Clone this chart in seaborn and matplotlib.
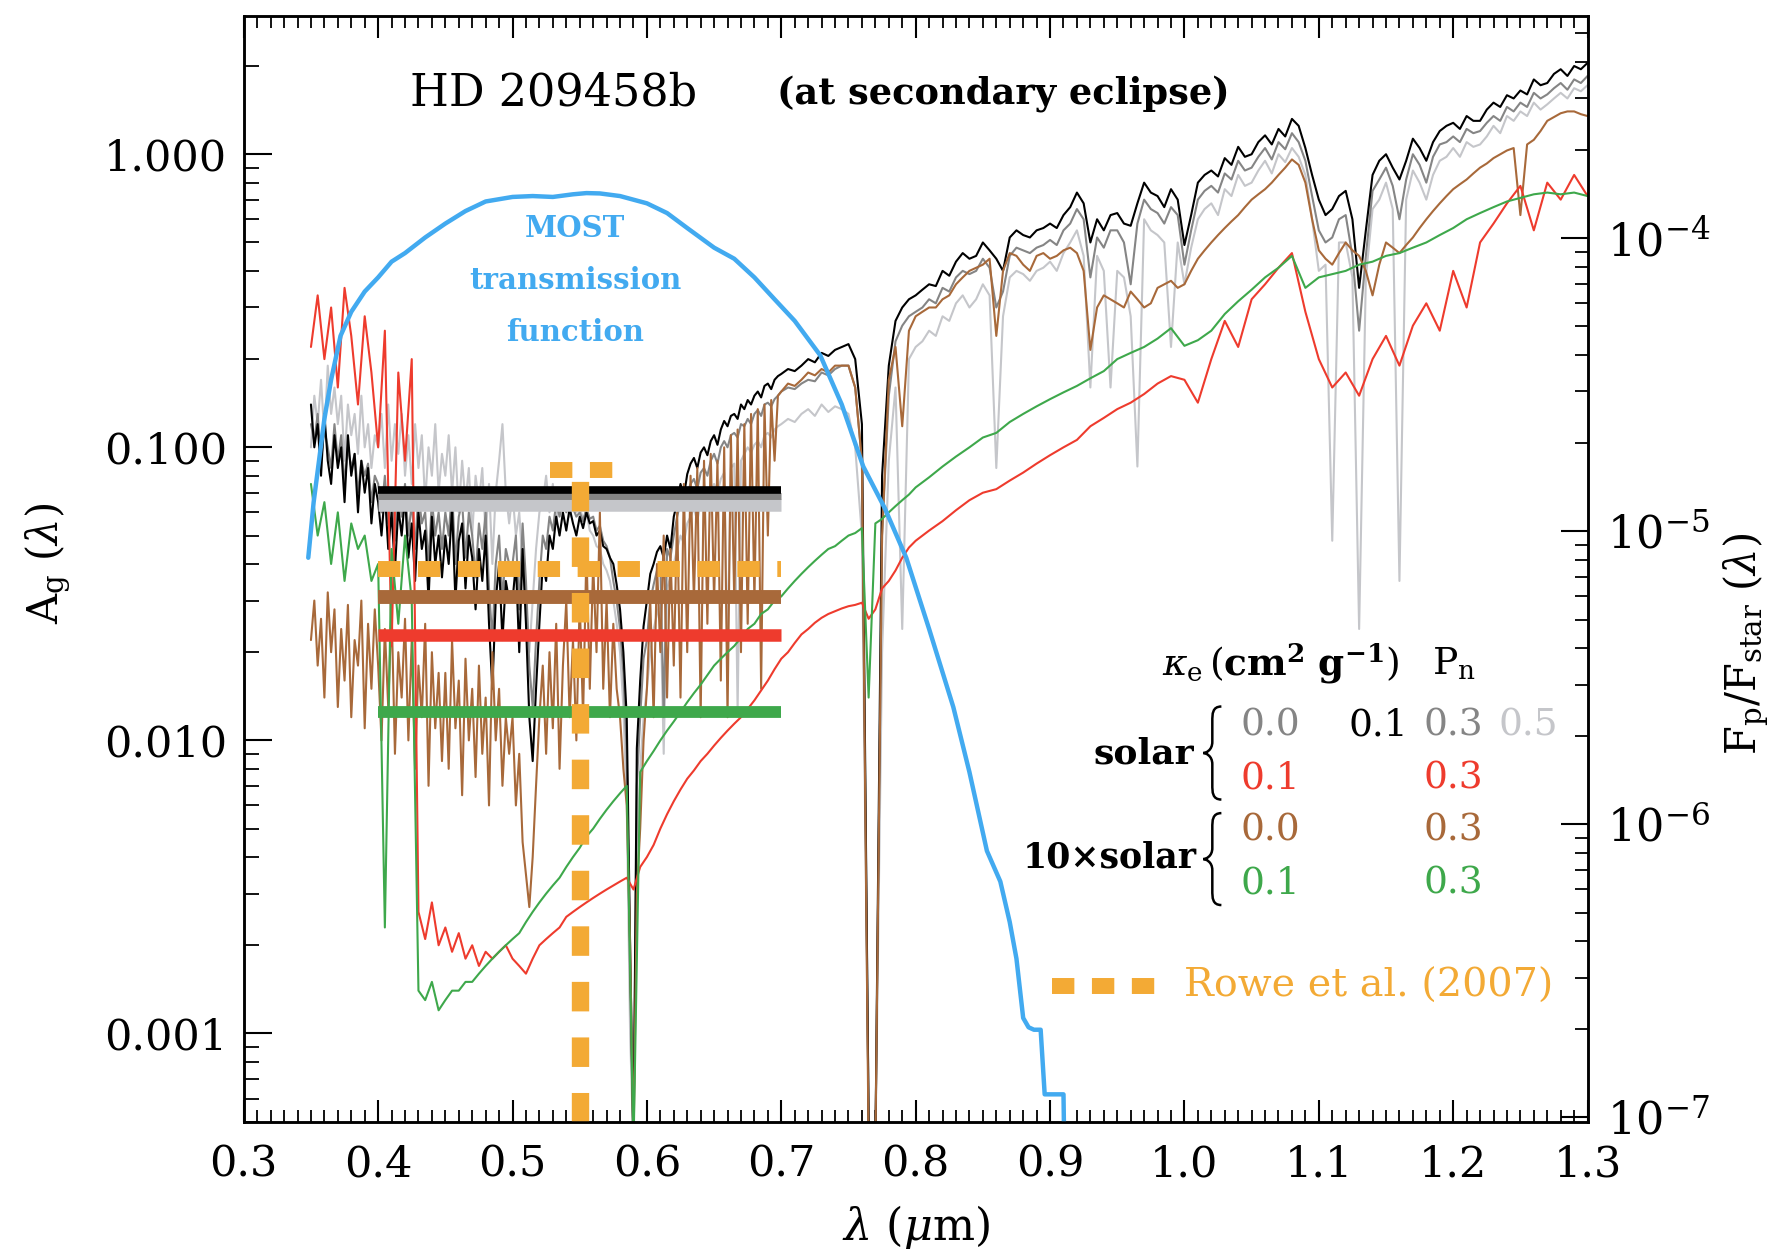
import numpy as np
import matplotlib
matplotlib.use("Agg")
import matplotlib.pyplot as plt
import seaborn as sns
from matplotlib.path import Path
from matplotlib.patches import PathPatch
from matplotlib.ticker import FixedLocator, LogLocator, MultipleLocator, FuncFormatter, NullFormatter

# ---------------- data ----------------
# wavelength grids (micron)
lam_hi = np.round(np.r_[np.arange(0.350, 0.6999, 0.0025),
                        np.arange(0.700, 0.7975, 0.005),
                        np.arange(0.800, 1.3001, 0.005)], 4)
lam_lo = np.round(np.r_[np.arange(0.350, 0.7975, 0.005), np.arange(0.80, 1.3005, 0.01)], 3)

# solar, kappa=0.0, Pn=0.1 (black)  -- on lam_hi
black_A = [0.14, 0.10, 0.12, 0.08, 0.13, 0.09, 0.075, 0.11, 0.085, 0.10,
           0.065, 0.11, 0.08, 0.095, 0.06, 0.09, 0.07, 0.085, 0.055, 0.075,
           0.065, 0.05, 0.07, 0.045, 0.06, 0.038, 0.062, 0.05, 0.068, 0.042,
           0.055, 0.035, 0.06, 0.045, 0.052, 0.03, 0.058, 0.04, 0.05, 0.036,
           0.05, 0.04, 0.062, 0.03, 0.048, 0.055, 0.033, 0.05, 0.042, 0.028,
           0.045, 0.035, 0.05, 0.025, 0.015, 0.03, 0.04, 0.022, 0.035, 0.03,
           0.03, 0.04, 0.02, 0.045, 0.025, 0.012, 0.0085, 0.015, 0.025, 0.04,
           0.035, 0.05, 0.045, 0.058, 0.05, 0.06, 0.052, 0.062, 0.055, 0.05,
           0.058, 0.053, 0.06, 0.055, 0.056, 0.05, 0.052, 0.046, 0.045, 0.042,
           0.04, 0.034, 0.028, 0.02, 0.012, 0.002, 0.0004, 0.0094, 0.016, 0.0245,
           0.03, 0.037, 0.04, 0.044, 0.046, 0.042, 0.05, 0.045, 0.058, 0.065,
           0.075, 0.068, 0.081, 0.088, 0.092, 0.085, 0.096, 0.10, 0.094, 0.105,
           0.11, 0.102, 0.115, 0.123, 0.118, 0.128, 0.13, 0.125, 0.14, 0.135,
           0.145, 0.14, 0.15, 0.155, 0.148, 0.162, 0.165, 0.158, 0.17, 0.175,
           0.178, 0.185, 0.182, 0.19, 0.20, 0.195, 0.21, 0.205, 0.215, 0.22,
           0.225, 0.20, 0.12, 0.0005, 0.0004, 0.08, 0.19, 0.27, 0.30, 0.32,
           0.33, 0.345, 0.36, 0.355, 0.40, 0.385, 0.43, 0.46, 0.44, 0.45,
           0.50, 0.47, 0.44, 0.40, 0.52, 0.55, 0.53, 0.52, 0.55, 0.56,
           0.58, 0.56, 0.62, 0.66, 0.74, 0.68, 0.50, 0.60, 0.55, 0.62,
           0.63, 0.58, 0.57, 0.68, 0.80, 0.74, 0.72, 0.66, 0.76, 0.70,
           0.49, 0.62, 0.80, 0.85, 0.88, 0.84, 0.97, 0.92, 1.06, 0.98,
           1.00, 1.10, 1.16, 1.08, 1.22, 1.15, 1.32, 1.25, 1.05, 0.85,
           0.70, 0.62, 0.65, 0.72, 0.75, 0.60, 0.35, 0.55, 0.85, 0.95,
           1.00, 0.90, 0.82, 0.95, 1.13, 1.05, 0.95, 1.10, 1.20, 1.25,
           1.28, 1.22, 1.35, 1.30, 1.30, 1.42, 1.50, 1.45, 1.59, 1.55,
           1.65, 1.60, 1.80, 1.72, 1.75, 1.88, 1.95, 1.85, 2.00, 1.95,
           2.05]

# solar, kappa=0.0, Pn=0.3 (gray)  -- on lam_hi
gray_A = [0.12, 0.105, 0.13, 0.09, 0.115, 0.10, 0.085, 0.12, 0.09, 0.11,
          0.075, 0.10, 0.085, 0.095, 0.07, 0.09, 0.08, 0.088, 0.065, 0.08,
          0.075, 0.06, 0.08, 0.055, 0.07, 0.048, 0.072, 0.058, 0.075, 0.05,
          0.065, 0.045, 0.07, 0.055, 0.06, 0.04, 0.066, 0.05, 0.06, 0.045,
          0.06, 0.05, 0.072, 0.04, 0.058, 0.065, 0.042, 0.06, 0.05, 0.036,
          0.055, 0.045, 0.06, 0.033, 0.022, 0.04, 0.05, 0.03, 0.045, 0.04,
          0.04, 0.05, 0.028, 0.055, 0.035, 0.018, 0.013, 0.022, 0.035, 0.05,
          0.045, 0.058, 0.052, 0.065, 0.058, 0.066, 0.06, 0.068, 0.062, 0.058,
          0.06, 0.056, 0.062, 0.057, 0.058, 0.052, 0.054, 0.048, 0.046, 0.042,
          0.035, 0.03, 0.024, 0.017, 0.009, 0.0015, 0.0004, 0.007, 0.012, 0.019,
          0.022, 0.03, 0.034, 0.038, 0.04, 0.012, 0.045, 0.042, 0.05, 0.058,
          0.065, 0.06, 0.07, 0.075, 0.078, 0.072, 0.082, 0.085, 0.08, 0.09,
          0.095, 0.088, 0.10, 0.105, 0.10, 0.11, 0.112, 0.108, 0.12, 0.118,
          0.125, 0.12, 0.13, 0.134, 0.128, 0.14, 0.142, 0.138, 0.146, 0.15,
          0.155, 0.16, 0.158, 0.165, 0.17, 0.168, 0.18, 0.176, 0.185, 0.19,
          0.19, 0.16, 0.09, 0.0005, 0.0004, 0.05, 0.15, 0.23, 0.26, 0.28,
          0.29, 0.30, 0.32, 0.31, 0.35, 0.34, 0.38, 0.40, 0.39, 0.40,
          0.44, 0.41, 0.30, 0.34, 0.45, 0.48, 0.47, 0.46, 0.48, 0.49,
          0.51, 0.49, 0.55, 0.58, 0.65, 0.60, 0.38, 0.52, 0.48, 0.55,
          0.55, 0.50, 0.36, 0.58, 0.70, 0.65, 0.63, 0.58, 0.66, 0.62,
          0.42, 0.55, 0.70, 0.75, 0.78, 0.74, 0.86, 0.82, 0.95, 0.88,
          0.90, 0.98, 1.05, 0.96, 1.10, 1.04, 1.18, 1.10, 0.95, 0.72,
          0.55, 0.50, 0.52, 0.60, 0.62, 0.45, 0.25, 0.45, 0.75, 0.82,
          0.90, 0.78, 0.60, 0.82, 1.00, 0.92, 0.80, 0.98, 1.08, 1.10,
          1.15, 1.10, 1.22, 1.18, 1.20, 1.28, 1.35, 1.30, 1.45, 1.40,
          1.50, 1.45, 1.62, 1.55, 1.60, 1.68, 1.75, 1.66, 1.80, 1.75,
          1.85]

# solar, kappa=0.0, Pn=0.5 (light gray)  -- on lam_hi
lgray_A = [0.10, 0.15, 0.12, 0.17, 0.11, 0.19, 0.13, 0.16, 0.12, 0.15,
           0.09, 0.14, 0.11, 0.13, 0.095, 0.15, 0.10, 0.12, 0.085, 0.11,
           0.10, 0.13, 0.085, 0.14, 0.09, 0.12, 0.095, 0.13, 0.08, 0.11,
           0.075, 0.12, 0.085, 0.11, 0.065, 0.10, 0.08, 0.12, 0.07, 0.095,
           0.08, 0.11, 0.07, 0.10, 0.06, 0.09, 0.065, 0.085, 0.05, 0.08,
           0.065, 0.085, 0.05, 0.075, 0.04, 0.07, 0.09, 0.12, 0.07, 0.055,
           0.07, 0.05, 0.06, 0.04, 0.03, 0.02, 0.03, 0.045, 0.06, 0.065,
           0.08, 0.06, 0.075, 0.055, 0.07, 0.062, 0.068, 0.058, 0.066, 0.06,
           0.062, 0.057, 0.06, 0.052, 0.05, 0.046, 0.045, 0.04, 0.038, 0.035,
           0.03, 0.025, 0.02, 0.013, 0.006, 0.001, 0.0004, 0.004, 0.008, 0.012,
           0.015, 0.02, 0.024, 0.027, 0.03, 0.009, 0.033, 0.036, 0.04, 0.045,
           0.05, 0.047, 0.055, 0.058, 0.062, 0.056, 0.065, 0.068, 0.064, 0.07,
           0.075, 0.07, 0.078, 0.082, 0.02, 0.085, 0.088, 0.0126, 0.09, 0.095,
           0.10, 0.096, 0.102, 0.105, 0.10, 0.11, 0.112, 0.108, 0.115, 0.118,
           0.12, 0.125, 0.122, 0.13, 0.135, 0.128, 0.14, 0.132, 0.138, 0.135,
           0.13, 0.10, 0.05, 0.0005, 0.0004, 0.02, 0.09, 0.16, 0.024, 0.20,
           0.22, 0.23, 0.25, 0.24, 0.28, 0.27, 0.31, 0.33, 0.30, 0.32,
           0.36, 0.33, 0.085, 0.28, 0.38, 0.40, 0.39, 0.37, 0.40, 0.41,
           0.43, 0.40, 0.46, 0.50, 0.55, 0.45, 0.16, 0.45, 0.40, 0.16,
           0.40, 0.38, 0.28, 0.086, 0.60, 0.55, 0.53, 0.50, 0.22, 0.50,
           0.36, 0.48, 0.60, 0.65, 0.68, 0.62, 0.76, 0.72, 0.85, 0.78,
           0.80, 0.88, 0.95, 0.86, 1.00, 0.94, 1.05, 0.98, 0.85, 0.60,
           0.40, 0.42, 0.048, 0.50, 0.50, 0.38, 0.024, 0.38, 0.65, 0.70,
           0.80, 0.65, 0.035, 0.70, 0.88, 0.80, 0.70, 0.85, 0.95, 0.98,
           1.05, 0.98, 1.10, 1.06, 1.08, 1.15, 1.25, 1.18, 1.35, 1.30,
           1.40, 1.35, 1.50, 1.42, 1.48, 1.55, 1.62, 1.55, 1.68, 1.64,
           1.72]

# 10x solar, kappa=0.0, Pn=0.3 (brown)  -- on lam_hi
brown_A = [0.022, 0.03, 0.018, 0.026, 0.014, 0.032, 0.02, 0.028, 0.013, 0.024,
           0.016, 0.029, 0.012, 0.022, 0.018, 0.03, 0.011, 0.025, 0.015, 0.028,
           0.018, 0.01, 0.024, 0.013, 0.028, 0.009, 0.02, 0.014, 0.026, 0.01,
           0.022, 0.008, 0.018, 0.012, 0.025, 0.007, 0.02, 0.011, 0.017, 0.0085,
           0.017, 0.008, 0.022, 0.011, 0.016, 0.0065, 0.019, 0.01, 0.015, 0.0075,
           0.018, 0.009, 0.014, 0.006, 0.02, 0.01, 0.015, 0.007, 0.012, 0.009,
           0.012, 0.006, 0.009, 0.0045, 0.0035, 0.0027, 0.004, 0.007, 0.012, 0.018,
           0.009, 0.02, 0.011, 0.025, 0.008, 0.018, 0.03, 0.012, 0.022, 0.01,
           0.03, 0.012, 0.045, 0.015, 0.04, 0.02, 0.06, 0.015, 0.03, 0.012,
           0.025, 0.015, 0.012, 0.008, 0.006, 0.002, 0.0004, 0.003, 0.005, 0.01,
           0.015, 0.03, 0.012, 0.04, 0.02, 0.05, 0.014, 0.045, 0.018, 0.06,
           0.014, 0.075, 0.02, 0.08, 0.03, 0.085, 0.012, 0.09, 0.025, 0.095,
           0.03, 0.09, 0.016, 0.10, 0.012, 0.11, 0.03, 0.115, 0.02, 0.12,
           0.025, 0.13, 0.03, 0.135, 0.015, 0.14, 0.05, 0.145, 0.09, 0.15,
           0.155, 0.165, 0.162, 0.17, 0.18, 0.176, 0.185, 0.18, 0.19, 0.19,
           0.19, 0.16, 0.09, 0.0004, 0.0004, 0.05, 0.17, 0.22, 0.118, 0.25,
           0.28, 0.29, 0.30, 0.30, 0.32, 0.33, 0.36, 0.38, 0.40, 0.41,
           0.42, 0.44, 0.24, 0.40, 0.46, 0.45, 0.42, 0.40, 0.45, 0.46,
           0.44, 0.45, 0.47, 0.48, 0.46, 0.40, 0.215, 0.30, 0.33, 0.32,
           0.31, 0.30, 0.34, 0.32, 0.30, 0.31, 0.35, 0.36, 0.37, 0.35,
           0.36, 0.40, 0.44, 0.47, 0.50, 0.53, 0.56, 0.59, 0.62, 0.66,
           0.70, 0.73, 0.76, 0.80, 0.85, 0.90, 0.96, 0.92, 0.80, 0.60,
           0.47, 0.44, 0.42, 0.46, 0.50, 0.47, 0.45, 0.40, 0.33, 0.42,
           0.50, 0.48, 0.46, 0.49, 0.52, 0.56, 0.60, 0.64, 0.68, 0.72,
           0.76, 0.79, 0.82, 0.86, 0.90, 0.93, 0.97, 1.00, 1.03, 1.05,
           0.62, 1.08, 1.12, 1.20, 1.30, 1.34, 1.38, 1.40, 1.40, 1.37,
           1.35]

# solar, kappa=0.1, Pn=0.3 (red)  -- on lam_lo
red_A = [0.22, 0.33, 0.20, 0.30, 0.16, 0.35, 0.24, 0.14, 0.28, 0.18,
         0.10, 0.25, 0.021, 0.18, 0.09, 0.20, 0.0026, 0.0021, 0.0028, 0.002,
         0.0023, 0.0019, 0.0022, 0.0018, 0.002, 0.0017, 0.0019, 0.0018, 0.0019, 0.002,
         0.0018, 0.0017, 0.0016, 0.0018, 0.002, 0.0021, 0.0022, 0.0023, 0.0025, 0.0026,
         0.0027, 0.0028, 0.0029, 0.003, 0.0031, 0.0032, 0.0033, 0.0034, 0.0031, 0.0037,
         0.004, 0.0044, 0.005, 0.0056, 0.0062, 0.0068, 0.0074, 0.0079, 0.0085, 0.009,
         0.0096, 0.0102, 0.0108, 0.0114, 0.012, 0.0128, 0.0137, 0.0148, 0.016, 0.0175,
         0.019, 0.02, 0.0215, 0.023, 0.024, 0.0252, 0.0262, 0.027, 0.0276, 0.0282,
         0.0287, 0.029, 0.0295, 0.026, 0.028, 0.033, 0.035, 0.038, 0.042, 0.0455,
         0.048, 0.052, 0.056, 0.061, 0.066, 0.070, 0.072, 0.077, 0.082, 0.088,
         0.094, 0.10, 0.106, 0.118, 0.126, 0.135, 0.142, 0.152, 0.165, 0.175,
         0.17, 0.142, 0.20, 0.27, 0.22, 0.32, 0.36, 0.41, 0.46, 0.29,
         0.20, 0.16, 0.18, 0.15, 0.20, 0.24, 0.19, 0.26, 0.31, 0.25,
         0.40, 0.30, 0.50, 0.58, 0.68, 0.78, 0.55, 0.80, 0.70, 0.85, 0.72]

# 10x solar, kappa=0.1, Pn=0.3 (green)  -- on lam_lo
green_A = [0.075, 0.05, 0.065, 0.04, 0.06, 0.035, 0.055, 0.045, 0.05, 0.035,
           0.04, 0.0023, 0.045, 0.025, 0.05, 0.03, 0.0014, 0.0013, 0.0015, 0.0012,
           0.0013, 0.0014, 0.0014, 0.0015, 0.0015, 0.0016, 0.0017, 0.0018, 0.0019, 0.002,
           0.0021, 0.0022, 0.0024, 0.0026, 0.0028, 0.003, 0.0032, 0.0034, 0.0037, 0.004,
           0.0043, 0.0047, 0.005, 0.0054, 0.0058, 0.0062, 0.0066, 0.007, 0.0004, 0.0078,
           0.0085, 0.0092, 0.01, 0.0108, 0.0116, 0.0125, 0.0135, 0.0145, 0.0155, 0.0167,
           0.018, 0.019, 0.02, 0.021, 0.0224, 0.024, 0.025, 0.027, 0.028, 0.03,
           0.031, 0.033, 0.035, 0.037, 0.039, 0.041, 0.043, 0.045, 0.046, 0.048,
           0.05, 0.051, 0.053, 0.014, 0.055, 0.057, 0.06, 0.063, 0.066, 0.069,
           0.073, 0.079, 0.086, 0.093, 0.10, 0.108, 0.112, 0.122, 0.13, 0.138,
           0.146, 0.154, 0.162, 0.172, 0.182, 0.20, 0.21, 0.22, 0.235, 0.255,
           0.222, 0.232, 0.25, 0.285, 0.315, 0.345, 0.38, 0.41, 0.45, 0.35,
           0.38, 0.39, 0.40, 0.42, 0.43, 0.45, 0.46, 0.48, 0.50, 0.53,
           0.56, 0.60, 0.63, 0.66, 0.69, 0.71, 0.73, 0.74, 0.73, 0.74, 0.72]

# MOST transmission function (scaled on left axis)
most_lam = [0.348, 0.352, 0.356, 0.360, 0.365, 0.372, 0.380, 0.390, 0.400, 0.410,
            0.420, 0.435, 0.450, 0.465, 0.480, 0.500, 0.515, 0.530, 0.545, 0.555,
            0.565, 0.580, 0.600, 0.615, 0.630, 0.650, 0.665, 0.680, 0.695, 0.710,
            0.729, 0.745, 0.761, 0.777, 0.793, 0.810, 0.828, 0.840, 0.853, 0.863,
            0.870, 0.875, 0.880, 0.884, 0.888, 0.893, 0.896, 0.904, 0.910, 0.911]
most_A = [0.042, 0.065, 0.09, 0.125, 0.17, 0.24, 0.29, 0.34, 0.38, 0.43,
          0.46, 0.52, 0.58, 0.64, 0.69, 0.715, 0.72, 0.715, 0.73, 0.737,
          0.735, 0.72, 0.68, 0.63, 0.56, 0.48, 0.44, 0.38, 0.32, 0.27,
          0.206, 0.14, 0.086, 0.062, 0.042, 0.024, 0.013, 0.0078, 0.0042, 0.0033,
          0.0024, 0.0018, 0.00113, 0.00105, 0.00103, 0.00103, 0.00062, 0.00062, 0.00062, 0.0003]

# band-averaged albedos over the MOST bandpass
band_lam = [0.40, 0.70]
band_lgray, band_gray, band_black = 0.0638, 0.068, 0.0716
band_brown, band_red, band_green = 0.0308, 0.0229, 0.0125

# Rowe et al. (2007)
rowe_lam = 0.55
rowe_value = 0.0384
rowe_upper = 0.084
rowe_cap_lam = [0.528, 0.576]

assert len(black_A) == len(gray_A) == len(lgray_A) == len(brown_A) == len(lam_hi)
assert len(red_A) == len(green_A) == len(lam_lo)

# ---------------- style ----------------
sns.set_style("ticks")
plt.rcParams['font.family'] = ['DejaVu Serif']
plt.rcParams['mathtext.fontset'] = 'dejavuserif'
for k in ['text.color', 'axes.labelcolor', 'xtick.color', 'ytick.color', 'axes.edgecolor']:
    plt.rcParams[k] = 'black'

C_BLACK, C_GRAY, C_LGRAY = '#000000', '#858585', '#c5c6ca'
C_BROWN, C_RED, C_GREEN = '#a8693a', '#ee3b2d', '#3ea84b'
C_BLUE, C_ORANGE = '#42aaf0', '#f3aa35'

fig = plt.figure(figsize=(17.78, 12.55), dpi=100)
ax = fig.add_axes([0.1371, 0.1062, 0.7558, 0.8813])
ax.set_yscale('log')
YMIN, YMAX = 5.0e-4, 2.97
ax.set_xlim(0.3, 1.3)
ax.set_ylim(YMIN, YMAX)

def spec(x, y, color, lw=1.5, z=2):
    sns.lineplot(x=np.asarray(x), y=np.asarray(y), ax=ax, color=color, lw=lw,
                 estimator=None, sort=False, zorder=z, legend=False)

spec(lam_hi, lgray_A, C_LGRAY, z=2.0)
spec(lam_hi, gray_A, C_GRAY, z=2.1)
spec(lam_hi, black_A, C_BLACK, z=2.2)
spec(lam_hi, brown_A, C_BROWN, z=2.3)
spec(lam_lo, red_A, C_RED, z=2.4)
spec(lam_lo, green_A, C_GREEN, z=2.5)

sns.lineplot(x=most_lam, y=most_A, ax=ax, color=C_BLUE, lw=3.2,
             estimator=None, sort=False, zorder=3, legend=False)

def band(v, color, lw):
    sns.lineplot(x=band_lam, y=[v, v], ax=ax, color=color, lw=lw,
                 estimator=None, sort=False, zorder=4, legend=False,
                 solid_capstyle='butt')

band(band_lgray, C_LGRAY, 9)
band(band_gray, C_GRAY, 5)
band(band_black, C_BLACK, 5.5)
band(band_brown, C_BROWN, 10)
band(band_red, C_RED, 9)
band(band_green, C_GREEN, 8.5)

dash = (0, (1.4, 1.1))
ax.plot(band_lam, [rowe_value, rowe_value], color=C_ORANGE, lw=11.5,
        linestyle=dash, dash_capstyle='butt', zorder=5)
ax.plot([rowe_lam, rowe_lam], [YMIN, rowe_upper * 0.93], color=C_ORANGE, lw=12.5,
        linestyle=(0, (1.7, 1.5)), dash_capstyle='butt', zorder=5)
ax.plot(rowe_cap_lam, [rowe_upper, rowe_upper], color=C_ORANGE, lw=11.5,
        linestyle=dash, dash_capstyle='butt', zorder=5)

# ---------------- axes ----------------
ax.xaxis.set_major_locator(MultipleLocator(0.1))
ax.xaxis.set_minor_locator(MultipleLocator(0.01))
ax.xaxis.set_major_formatter(FuncFormatter(lambda v, p: f"{v:.1f}"))
ax.yaxis.set_major_locator(FixedLocator([0.001, 0.01, 0.1, 1.0]))
ax.yaxis.set_minor_locator(LogLocator(base=10, subs=np.arange(2, 10)))
ax.yaxis.set_major_formatter(FuncFormatter(lambda v, p: f"{v:.3f}"))
ax.yaxis.set_minor_formatter(NullFormatter())

ax.tick_params(axis='x', which='major', direction='in', length=16, width=1.5,
               top=True, bottom=True, labelsize=31, pad=16)
ax.tick_params(axis='x', which='minor', direction='in', length=8.5, width=1.3,
               top=True, bottom=True)
ax.tick_params(axis='y', which='major', direction='in', length=20.5, width=1.5,
               left=True, right=False, labelsize=31, pad=12)
ax.tick_params(axis='y', which='minor', direction='in', length=10.5, width=1.3,
               left=True, right=False)
for s in ax.spines.values():
    s.set_linewidth(1.8)
    s.set_color('black')

K = 1.934e-4
ax2 = ax.twinx()
ax2.set_yscale('log')
ax2.set_ylim(YMIN * K, YMAX * K)
ax2.yaxis.set_major_locator(FixedLocator([1e-7, 1e-6, 1e-5, 1e-4]))
ax2.yaxis.set_minor_locator(LogLocator(base=10, subs=np.arange(2, 10)))
ax2.yaxis.set_major_formatter(FuncFormatter(lambda v, p: r'$10^{%d}$' % round(np.log10(v))))
ax2.yaxis.set_minor_formatter(NullFormatter())
ax2.tick_params(axis='y', which='major', direction='in', length=19.5, width=1.5,
                labelsize=32, pad=14, colors='black')
ax2.tick_params(axis='y', which='minor', direction='in', length=9.5, width=1.3, colors='black')
for s in ax2.spines.values():
    s.set_linewidth(1.8)
    s.set_color('black')

ax.set_xlabel(r'$\lambda\ (\mu\mathrm{m})$', fontsize=32, va='center')
ax.xaxis.set_label_coords(0.500, -0.095)
ax.set_ylabel(r'$\mathrm{A_g}\ (\lambda)$', fontsize=30, va='center', ha='center')
ax.yaxis.set_label_coords(-0.146, 0.505)
ax2.set_ylabel(r'$\mathrm{F_p/F_{star}}\ (\lambda)$', fontsize=30, va='center',
               ha='center', rotation=90)
ax2.yaxis.set_label_coords(1.118, 0.432)

# ---------------- annotations ----------------
ax.text(0.424, 1.617, 'HD 209458b', fontsize=32, ha='left', va='center', zorder=6)
ax.text(0.6966, 1.617, '(at secondary eclipse)', fontsize=26.5, fontweight='bold',
        ha='left', va='center', zorder=6)

for txt, yy in [('MOST', 0.556), ('transmission', 0.370), ('function', 0.246)]:
    ax.text(0.5464, yy, txt, color=C_BLUE, fontsize=21, fontweight='bold',
            ha='center', va='center', zorder=6)

ax.text(0.9835, 0.0183, r'$\kappa_{\rm e}\,(\mathbf{cm^2\ g^{-1}})$', fontsize=27,
        ha='left', va='center')
ax.text(1.184, 0.0183, r'$\mathrm{P_n}$', fontsize=27, ha='left', va='center')

ax.text(1.0072, 0.0090, 'solar', fontsize=26, fontweight='bold', ha='right', va='center')
ax.text(1.0089, 0.00398, '10×solar', fontsize=25, fontweight='bold', ha='right', va='center')

def brace(x0, x1, yb, yt):
    """thin curly brace in axes-fraction coordinates"""
    xm = 0.5 * (x0 + x1)
    ym = 0.5 * (yb + yt)
    h = yt - yb
    verts = [(x1, yt), (xm, yt), (xm, yt - 0.08 * h), (xm, yt - 0.16 * h),
             (xm, ym + 0.12 * h),
             (xm, ym + 0.03 * h), (x0 + 0.15 * (x1 - x0), ym), (x0, ym),
             (x0 + 0.15 * (x1 - x0), ym), (xm, ym - 0.03 * h), (xm, ym - 0.12 * h),
             (xm, yb + 0.16 * h),
             (xm, yb + 0.08 * h), (xm, yb), (x1, yb)]
    codes = [Path.MOVETO, Path.CURVE4, Path.CURVE4, Path.CURVE4,
             Path.LINETO,
             Path.CURVE4, Path.CURVE4, Path.CURVE4,
             Path.CURVE4, Path.CURVE4, Path.CURVE4,
             Path.LINETO,
             Path.CURVE4, Path.CURVE4, Path.CURVE4]
    ax.add_patch(PathPatch(Path(verts, codes), transform=ax.transAxes, fill=False,
                           lw=1.8, edgecolor='black', clip_on=False))

brace(0.7140, 0.7275, 0.2913, 0.3754)
brace(0.7140, 0.7275, 0.1959, 0.2790)

c1, c2, c3, c4 = 1.0637, 1.1443, 1.2004, 1.256
r1, r2, r3, r4 = 0.0112, 0.0074, 0.00493, 0.00326
legend_rows = [
    (c1, r1, '0.0', C_GRAY), (c2, r1, '0.1', C_BLACK), (c3, r1, '0.3', C_GRAY),
    (c4, r1, '0.5', C_LGRAY),
    (c1, r2, '0.1', C_RED), (c3, r2, '0.3', C_RED),
    (c1, r3, '0.0', C_BROWN), (c3, r3, '0.3', C_BROWN),
    (c1, r4, '0.1', C_GREEN), (c3, r4, '0.3', C_GREEN),
]
for xx, yy, t, col in legend_rows:
    ax.text(xx, yy, t, color=col, fontsize=27, ha='center', va='center')

ax.plot([0.9017, 0.981], [0.00145, 0.00145], color=C_ORANGE, lw=11.5,
        linestyle=dash, dash_capstyle='butt')
ax.text(0.9996, 0.00145, 'Rowe et al. (2007)', color=C_ORANGE, fontsize=28.5,
        ha='left', va='center')

fig.savefig('out.png', dpi=100)
